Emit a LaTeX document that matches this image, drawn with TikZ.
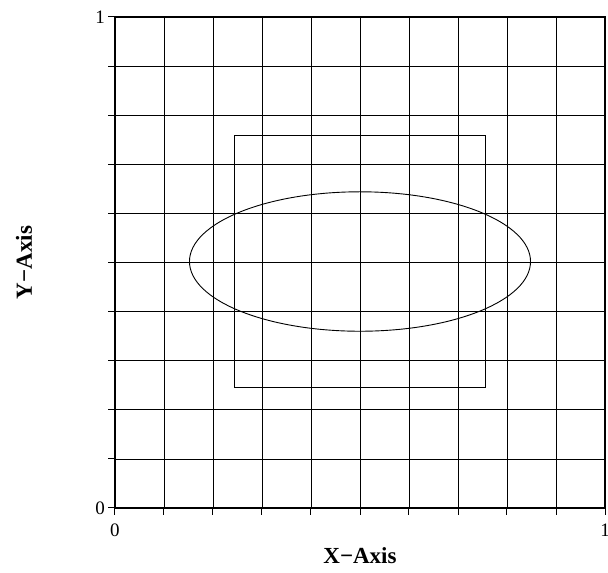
\documentclass[tikz,border=0pt]{standalone}
\usepackage{fontspec}
\setmainfont{Liberation Serif}
\usetikzlibrary{shapes.geometric}
\begin{document}
\begin{tikzpicture}[x=490pt,y=491pt,
  gridline/.style={line width=0.8pt,black},
  framebox/.style={line width=2.4pt,black,line cap=rect},
  tickmark/.style={line width=1pt,black},
  ticklabel/.style={font=\fontsize{19}{19}\selectfont,inner sep=0pt},
  axislabel/.style={font=\fontsize{23}{23}\selectfont\bfseries,inner sep=0pt},
  shapeline/.style={line width=0.9pt,black}]
\useasboundingbox (-115pt,-65pt) rectangle (493pt,508pt);
% grid
\foreach \i in {1,...,9} {
  \draw[gridline] (\i/10,0) -- (\i/10,1);
  \draw[gridline] (0,\i/10) -- (1,\i/10);
}
% ticks
\foreach \i in {0,...,10} {
  \draw[tickmark] (\i/10,0) -- ++(0,-7pt);
  \draw[tickmark] (0,\i/10) -- ++(-7pt,0);
}
% frame
\draw[framebox] (0,0) rectangle (1,1);
% shapes
\node[draw,shapeline,minimum width=0.514*490pt,minimum height=0.512*491pt,inner sep=0pt] (box) at (0.5,0.502) {};
\node[draw,shapeline,ellipse,minimum width=0.696*490pt,minimum height=0.284*491pt,inner sep=0pt] (ell) at (0.5,0.502) {};
% labels
\node[ticklabel,anchor=east] (y0) at (-10pt,0) {0};
\node[ticklabel,anchor=east] (y1) at (-10pt,1) {1};
\node[ticklabel,anchor=north] (x0) at (0,-16pt) {0};
\node[ticklabel,anchor=north] (x1) at (1,-16pt) {1};
\node[axislabel] (xl) at (0.5,-47.5pt) {X−Axis};
\node[axislabel,rotate=90] (yl) at (-91pt,0.5) {Y−Axis};
\end{tikzpicture}
\end{document}
